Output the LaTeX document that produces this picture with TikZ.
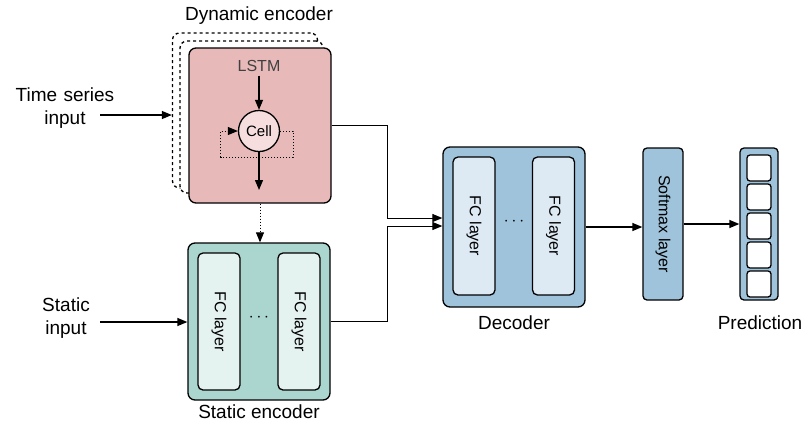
\documentclass[tikz,border=0pt]{standalone}
\usepackage{fontspec}
\setmainfont{Liberation Sans}
\usetikzlibrary{arrows.meta, calc, positioning}
\definecolor{dynfill}{HTML}{E8B9B9}
\definecolor{cellfill}{HTML}{F6DEDE}
\definecolor{statfill}{HTML}{ABD6CF}
\definecolor{statin}{HTML}{E4F2F0}
\definecolor{decfill}{HTML}{9EC3DA}
\definecolor{decin}{HTML}{DDEAF4}
\begin{document}
\begin{tikzpicture}[x=1pt, y=-1pt, line width=1.3pt,
    blk/.style={draw, rounded corners=7pt, inner sep=0pt},
    fc/.style={draw, rounded corners=5pt, inner sep=0pt, minimum width=42pt, minimum height=137pt},
    lbl/.style={font=\fontsize{19}{23}\selectfont, align=center},
    arr/.style={-{Triangle[length=10pt, width=8pt]}}]
      \useasboundingbox (0,0) rectangle (806,424);
      % dynamic encoder
      \node[blk, dashed, fill=white, minimum width=145pt, minimum height=155pt] (bk1) at (245,110.5) {};
      \node[blk, dashed, fill=white, minimum width=143pt, minimum height=152pt] (bk2) at (251.5,117) {};
      \node[blk, fill=dynfill, minimum width=142pt, minimum height=155pt] (dyn) at (260,125.5) {};
      \node[font=\fontsize{16}{18}\selectfont, text=black!75] (lstm) at (259,66) {LSTM};
      \node[circle, draw, fill=cellfill, minimum size=41pt, inner sep=0pt, font=\fontsize{15}{17}\selectfont] (cell) at (259,131) {Cell};
      \coordinate (cout) at (259,190);
      \draw[arr] (lstm.south) -- (cell.north);
      \draw[arr] (cell.south) -- (cout);
      \draw[dotted, arr, line width=1pt] (cell.east) -- ++(13,0) -- ++(0,26) -| ([xshift=-17pt]cell.west) -- (cell.west);
      \node[lbl] (dynlbl) at (259,16) {Dynamic encoder};
      % static encoder
      \node[blk, fill=statfill, minimum width=142pt, minimum height=157pt] (stat) at (259,321.5) {};
      \node[fc, fill=statin] (sfc1) at (219,321.5) {\rotatebox{-90}{\fontsize{16}{18}\selectfont FC layer}};
      \node[fc, fill=statin] (sfc2) at (299,321.5) {\rotatebox{-90}{\fontsize{16}{18}\selectfont FC layer}};
      \node[font=\fontsize{16}{18}\selectfont] (sdots) at (259,318) {$\cdots$};
      \node[lbl] (statlbl) at (259,412) {Static encoder};
      \draw[dotted, arr, line width=1pt] (dyn.south) -- (dyn.south |- stat.north);
      % inputs
      \node[lbl, text width=110pt] (tsin) at (65,108) {Time series\\input};
      \node[lbl, text width=110pt] (stin) at (66,318) {Static\\input};
      \coordinate (tsa) at (100,115);
      \coordinate (sta) at (100,322);
      \draw[arr] (tsa) -- (tsa -| bk1.west);
      \draw[arr] (sta) -- (sta -| stat.west);
      % decoder
      \node[blk, fill=decfill, minimum width=142pt, minimum height=160pt] (dec) at (514,227) {};
      \node[fc, fill=decin, minimum height=138pt] (dfc1) at (474,226) {\rotatebox{-90}{\fontsize{16}{18}\selectfont FC layer}};
      \node[fc, fill=decin, minimum height=138pt] (dfc2) at (553.5,226) {\rotatebox{-90}{\fontsize{16}{18}\selectfont FC layer}};
      \node[font=\fontsize{16}{18}\selectfont] (ddots) at (514,222) {$\cdots$};
      \node[lbl] (declbl) at (514,323) {Decoder};
      \coordinate (jx) at (387,0);
      \draw[arr, line width=1pt] (dyn.east) -- (dyn.east -| jx) |- ([yshift=9pt]dec.west);
      \draw[arr, line width=1pt] (stat.east) -- (stat.east -| jx) |- ([yshift=1pt]dec.west);
      % softmax and prediction
      \node[blk, rounded corners=4pt, fill=decfill, minimum width=40pt, minimum height=152pt] (soft) at (663,224)
        {\rotatebox{-90}{\fontsize{16}{18}\selectfont Softmax layer}};
      \node[blk, rounded corners=4pt, fill=decfill, minimum width=38pt, minimum height=152pt] (pred) at (759,224) {};
      \foreach \i in {0,...,4}
        \node[draw, fill=white, rounded corners=3pt, minimum width=24pt, minimum height=26pt, inner sep=0pt] (pc\i) at (759,168+29*\i) {};
      \node[lbl] (predlbl) at (760,323) {Prediction};
      \draw[arr] (dec.east) -- (dec.east -| soft.west);
      \draw[arr] (soft.east) -- (pred.west);
\end{tikzpicture}
\end{document}
